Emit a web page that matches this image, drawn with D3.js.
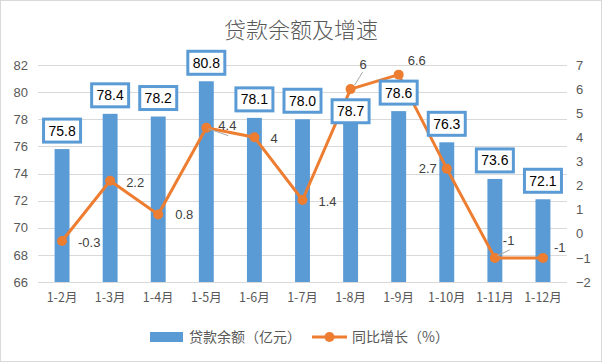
<!DOCTYPE html>
<html><head><meta charset="utf-8">
<script src="https://cdn.jsdelivr.net/npm/d3@7/dist/d3.min.js"></script>
<style>body{margin:0;background:#fff}svg{display:block}</style>
</head><body><svg id="c" width="602" height="362"></svg>
<script>
// ---- data ----
const title = "贷款余额及增速";
const categories = ["1-2月","1-3月","1-4月","1-5月","1-6月","1-7月","1-8月","1-9月","1-10月","1-11月","1-12月"];
const loanBalance = [75.8,78.4,78.2,80.8,78.1,78.0,78.7,78.6,76.3,73.6,72.1];
const growthRate = [-0.3,2.2,0.8,4.4,4,1.4,6,6.6,2.7,-1,-1];
const leftTicks = [66,68,70,72,74,76,78,80,82];
const rightTicks = [-2,-1,0,1,2,3,4,5,6,7];
const seriesNames = ["贷款余额（亿元）","同比增长（%）"];

// ---- drawing ----
const CJK = "'Noto Sans CJK SC','Microsoft YaHei',sans-serif";
const NUM = "'Liberation Sans',Arial,sans-serif";
const blue = "#5B9BD5", orange = "#ED7D31", grid = "#d9d9d9", txt = "#595959";
const svg = d3.select("#c");
svg.append("rect").attr("x",0.5).attr("y",0.5).attr("width",601).attr("height",361)
  .attr("fill","#fff").attr("stroke","#d9d9d9");

const L = 38, R = 567, T = 65, B = 282;
const x = d3.scaleBand().domain(categories).range([L,R]).paddingInner(0.69).paddingOuter(0.345);
const yL = d3.scaleLinear().domain([66,82]).range([B,T]);
const yR = d3.scaleLinear().domain([-2,7]).range([B,T]);
const cx = c => x(c) + x.bandwidth()/2;

// title
svg.append("text").attr("x",301).attr("y",38).attr("text-anchor","middle")
  .attr("font-family",CJK).attr("font-size",22).attr("font-weight",300).attr("fill",txt).text(title);

// gridlines
svg.append("g").selectAll("line").data(leftTicks).join("line")
  .attr("x1",L).attr("x2",R).attr("y1",d=>Math.round(yL(d))+0.5).attr("y2",d=>Math.round(yL(d))+0.5)
  .attr("stroke",grid).attr("stroke-width",1);

// axes
const gl = svg.append("g").attr("transform",`translate(${L},0)`)
  .call(d3.axisLeft(yL).tickValues(leftTicks).tickSize(0).tickPadding(10));
const gr = svg.append("g").attr("transform",`translate(${R},0)`)
  .call(d3.axisRight(yR).tickValues(rightTicks).tickSize(0).tickPadding(9));
const gb = svg.append("g").attr("transform",`translate(0,${B})`)
  .call(d3.axisBottom(x).tickSize(0).tickPadding(11));
[gl,gr,gb].forEach(g=>{
  g.select(".domain").remove();
  g.selectAll("text").attr("font-family",NUM).attr("font-size",13).attr("fill",txt);
});
gb.selectAll("text").attr("font-family",CJK).attr("font-size",12.5);

// bars
svg.append("g").selectAll("rect").data(categories).join("rect")
  .attr("x",d=>x(d)).attr("width",x.bandwidth())
  .attr("y",(d,i)=>yL(loanBalance[i])).attr("height",(d,i)=>B-yL(loanBalance[i]))
  .attr("fill",blue);

// line
const pts = categories.map((c,i)=>[cx(c), yR(growthRate[i])]);
svg.append("path").attr("d",d3.line()(pts)).attr("fill","none")
  .attr("stroke",orange).attr("stroke-width",3).attr("stroke-linejoin","round");
svg.append("g").selectAll("circle").data(pts).join("circle")
  .attr("cx",d=>d[0]).attr("cy",d=>d[1]).attr("r",5).attr("fill",orange);

// line labels (placement offsets relative to point)
const lineLabelOffset = [[16,1,"start"],[16,2,"start"],[17,0,"start"],[12,-2,"start"],[16,1,"start"],
  [16,1,"start"],[9,-25,"start"],[9,-14,"start"],[-10,0,"end"],[8,-17,"start"],[11,-10,"start"]];
const leaders = {3:[[2,1],[22,8]],6:[[4,-4],[12,-17]],9:[[2,-2],[15,-8]]};
Object.entries(leaders).forEach(([i,[a,b]])=>{
  const p = pts[+i];
  svg.append("line").attr("x1",p[0]+a[0]).attr("y1",p[1]+a[1]).attr("x2",p[0]+b[0]).attr("y2",p[1]+b[1])
    .attr("stroke","#a6a6a6").attr("stroke-width",1);
});
svg.append("g").selectAll("text").data(growthRate).join("text")
  .attr("x",(d,i)=>pts[i][0]+lineLabelOffset[i][0])
  .attr("y",(d,i)=>pts[i][1]+lineLabelOffset[i][1])
  .attr("dy","0.35em").attr("text-anchor",(d,i)=>lineLabelOffset[i][2])
  .attr("font-family",NUM).attr("font-size",13).attr("fill","#404040")
  .text(d=>d);

// bar value boxes
const boxW = 37, boxH = 23;
const boxShift = {6: 20};
const bl = svg.append("g").selectAll("g").data(loanBalance).join("g")
  .attr("transform",(d,i)=>`translate(${cx(categories[i])},${yL(d) - 7 - boxH/2 + (boxShift[i]||0)})`);
bl.append("rect").attr("x",-boxW/2).attr("y",-boxH/2).attr("width",boxW).attr("height",boxH)
  .attr("fill","#fff").attr("stroke",blue).attr("stroke-width",3);
bl.append("text").attr("text-anchor","middle").attr("dy","0.36em")
  .attr("font-family",NUM).attr("font-size",14).attr("fill","#000")
  .text(d=>d.toFixed(1));

// legend
const lg = svg.append("g");
lg.append("rect").attr("x",150).attr("y",332).attr("width",33).attr("height",10).attr("fill",blue);
lg.append("text").attr("x",189).attr("y",337).attr("dy","0.35em").attr("font-family",CJK)
  .attr("font-size",14).attr("fill",txt).text(seriesNames[0]);
lg.append("line").attr("x1",312).attr("x2",347).attr("y1",337).attr("y2",337)
  .attr("stroke",orange).attr("stroke-width",3);
lg.append("circle").attr("cx",329.5).attr("cy",337).attr("r",5).attr("fill",orange);
lg.append("text").attr("x",352).attr("y",337).attr("dy","0.35em").attr("font-family",CJK)
  .attr("font-size",14).attr("fill",txt).text(seriesNames[1]);
</script></body></html>
